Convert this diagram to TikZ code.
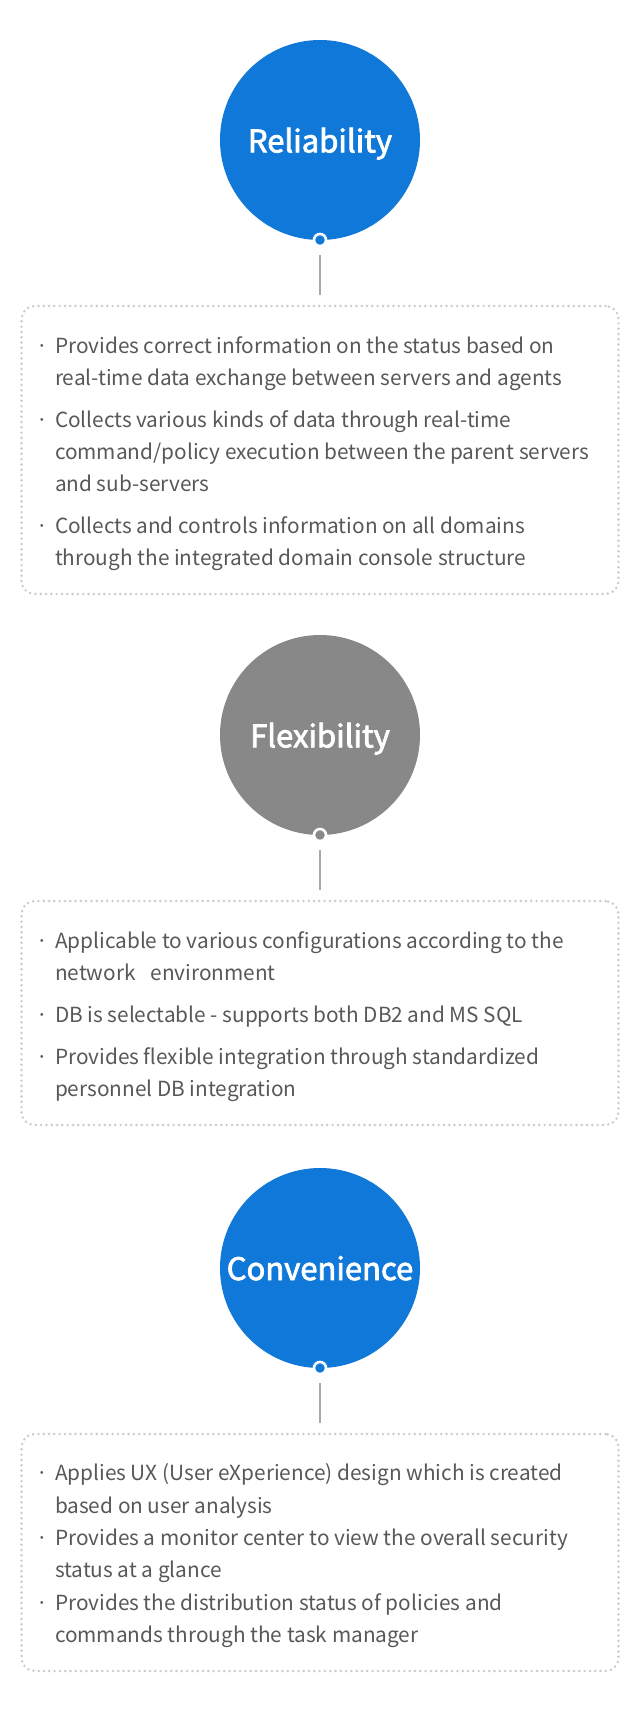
\documentclass[tikz,border=0pt]{standalone}
\usepackage{fontspec}
\setmainfont{Noto Sans CJK KR}
\newfontfamily\titlefont[FakeBold=2.5]{Noto Sans CJK KR}
\definecolor{cblue}{HTML}{1078D8}
\definecolor{cgray}{HTML}{888888}
\definecolor{ctext}{HTML}{585858}
\definecolor{cline}{HTML}{A8A8A8}
\definecolor{cdot}{HTML}{C6C9CE}
\begin{document}
\begin{tikzpicture}[x=1pt,y=-1pt,outer sep=0pt,
  badge/.style={circle,fill=#1,minimum size=200pt,inner sep=0pt,text=white,text depth=0pt,font=\titlefont\fontsize{31}{36}\selectfont},
  knob/.style={circle,fill=#1,draw=white,line width=2.6pt,minimum size=12pt,inner sep=0pt},
  card/.style={draw=cdot,line width=2.7pt,dash pattern=on 0pt off 5.3pt,line cap=round,rounded corners=13pt,minimum width=597pt,minimum height=#1,anchor=north,inner sep=0pt},
  stem/.style={draw=cline,line width=2pt,shorten <=9pt,shorten >=11.5pt},
  txt/.style={anchor=base west,inner sep=0pt,text=ctext,font=\fontsize{20.8}{32}\selectfont},
  bul/.style={anchor=base,inner sep=0pt,text=ctext,font=\fontsize{20.8}{32}\selectfont}
]
\useasboundingbox[fill=white] (0,0) rectangle (640,1712);

% ---------- Reliability ----------
\node[badge=cblue] (c1) at (320,140) {Reliability};
\node[knob=cblue] (k1) at (c1.south) {};
\node[card=288pt] (box1) at (320,306) {};
\draw[stem] (k1) -- (box1);
\node[bul] (b11) at (42,353) {·};
\node[txt] (t11) at (55,353) {Provides correct information on the status based on};
\node[txt] (t12) at (55,385) {real-time data exchange between servers and agents};
\node[bul] (b12) at (42,427) {·};
\node[txt] (t13) at (55,427) {Collects various kinds of data through real-time};
\node[txt] (t14) at (55,459) {command/policy execution between the parent servers};
\node[txt] (t15) at (55,491) {and sub-servers};
\node[bul] (b13) at (42,533) {·};
\node[txt] (t16) at (55,533) {Collects and controls information on all domains};
\node[txt] (t17) at (55,565) {through the integrated domain console structure};

% ---------- Flexibility ----------
\node[badge=cgray] (c2) at (320,735) {Flexibility};
\node[knob=cgray] (k2) at (c2.south) {};
\node[card=224pt] (box2) at (320,901) {};
\draw[stem] (k2) -- (box2);
\node[bul] (b21) at (42,948) {·};
\node[txt] (t21) at (55,948) {Applicable to various configurations according to the};
\node[txt] (t22) at (55,980) {network\hspace{15pt}environment};
\node[bul] (b22) at (42,1022) {·};
\node[txt] (t23) at (55,1022) {DB is selectable - supports both DB2 and MS SQL};
\node[bul] (b23) at (42,1064) {·};
\node[txt] (t24) at (55,1064) {Provides flexible integration through standardized};
\node[txt] (t25) at (55,1096) {personnel DB integration};

% ---------- Convenience ----------
\node[badge=cblue] (c3) at (320,1268) {Convenience};
\node[knob=cblue] (k3) at (c3.south) {};
\node[card=237pt] (box3) at (320,1434) {};
\draw[stem] (k3) -- (box3);
\node[bul] (b31) at (42,1480) {·};
\node[txt] (t31) at (55,1480) {Applies UX (User eXperience) design which is created};
\node[txt] (t32) at (55,1513) {based on user analysis};
\node[bul] (b32) at (42,1545) {·};
\node[txt] (t33) at (55,1545) {Provides a monitor center to view the overall security};
\node[txt] (t34) at (55,1577) {status at a glance};
\node[bul] (b33) at (42,1610) {·};
\node[txt] (t35) at (55,1610) {Provides the distribution status of policies and};
\node[txt] (t36) at (55,1642) {commands through the task manager};
\end{tikzpicture}
\end{document}
